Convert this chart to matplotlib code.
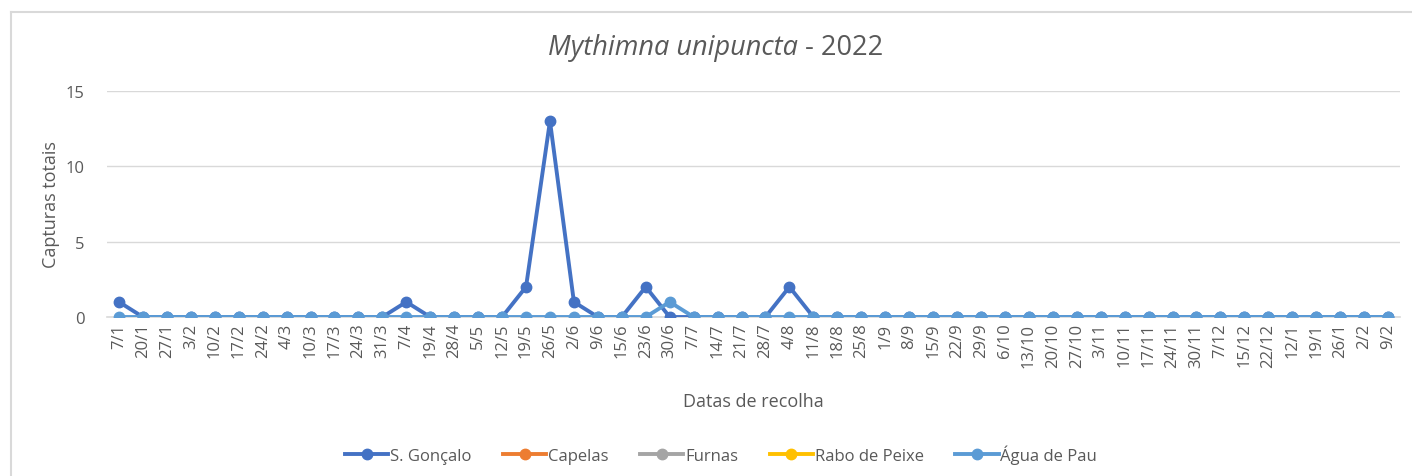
import matplotlib
matplotlib.use("Agg")
import matplotlib.pyplot as plt
from matplotlib.lines import Line2D

plt.rcParams['font.family'] = ['Open Sans', 'DejaVu Sans']

dates = ["7/1", "20/1", "27/1", "3/2", "10/2", "17/2", "24/2", "4/3", "10/3", "17/3",
         "24/3", "31/3", "7/4", "19/4", "28/4", "5/5", "12/5", "19/5", "26/5", "2/6",
         "9/6", "15/6", "23/6", "30/6", "7/7", "14/7", "21/7", "28/7", "4/8", "11/8",
         "18/8", "25/8", "1/9", "8/9", "15/9", "22/9", "29/9", "6/10", "13/10", "20/10",
         "27/10", "3/11", "10/11", "17/11", "24/11", "30/11", "7/12", "15/12", "22/12",
         "12/1", "19/1", "26/1", "2/2", "9/2"]

n = len(dates)
s_goncalo = [0] * n
s_goncalo[0] = 1
s_goncalo[12] = 1
s_goncalo[17] = 2
s_goncalo[18] = 13
s_goncalo[19] = 1
s_goncalo[22] = 2
s_goncalo[28] = 2
# no visible data for these stations in the chart
capelas = [None] * n
furnas = [None] * n
rabo_de_peixe = [None] * n
agua_de_pau = [0] * n
agua_de_pau[23] = 1

series = [
    ("S. Gonçalo", s_goncalo, "#4472C4", 5),
    ("Capelas", capelas, "#ED7D31", 2),
    ("Furnas", furnas, "#A5A5A5", 3),
    ("Rabo de Peixe", rabo_de_peixe, "#FFC000", 4),
    ("Água de Pau", agua_de_pau, "#5B9BD5", 6),
]

fig = plt.figure(figsize=(14.12, 4.77), dpi=100)
ax = fig.add_axes([107 / 1412, 1 - 318 / 477, (1400 - 107) / 1412, (318 - 92) / 477])

x = list(range(n))
handles = []
for name, vals, col, z in series:
    yv = [float('nan') if v is None else v for v in vals]
    ax.plot(x, yv, color=col, lw=2.8, marker='o', markersize=7.5, solid_capstyle='round',
            zorder=z)
    handles.append(Line2D([0], [0], color=col, lw=2.8, marker='o', markersize=7.5))

ax.set_xlim(-0.5, n - 0.5)
ax.set_ylim(0, 15)
ax.set_yticks([0, 5, 10, 15])
ax.yaxis.grid(True, color='#D9D9D9', lw=1)
ax.set_axisbelow(True)
for s in ['top', 'right', 'left']:
    ax.spines[s].set_visible(False)
ax.spines['bottom'].set_color('#D9D9D9')
ax.spines['bottom'].set_linewidth(1.2)
ax.set_xticks(x)
ax.set_xticklabels(dates, rotation=90)
ax.tick_params(axis='both', length=0, labelsize=12, labelcolor='#595959')
ax.tick_params(axis='y', pad=16)
ax.tick_params(axis='x', pad=4)

ax.set_ylabel("Capturas totais", fontsize=13, color='#595959', labelpad=4)
ax.set_xlabel("Datas de recolha", fontsize=13, color='#595959', labelpad=18)

ty = 1 - 48 / 477
fig.text(798 / 1412, ty, "Mythimna unipuncta", style='italic', ha='right',
         va='center', fontsize=19.5, color='#595959')
fig.text(798 / 1412, ty, " - 2022", ha='left', va='center', fontsize=19.5,
         color='#595959')

fig.legend(handles, [s[0] for s in series], loc='center', ncol=5,
           bbox_to_anchor=(721 / 1412, 1 - 455 / 477), frameon=False, fontsize=12,
           labelcolor='#595959', handlelength=2.6, handletextpad=0.1, columnspacing=1.9)

fig.add_artist(Line2D([11 / 1412, 11 / 1412], [0, 1 - 13 / 477], color='#D9D9D9', lw=1.5,
                      transform=fig.transFigure))
fig.add_artist(Line2D([11 / 1412, 1], [1 - 13 / 477, 1 - 13 / 477], color='#D9D9D9', lw=1.5,
                      transform=fig.transFigure))

fig.savefig("out.png", dpi=100)
